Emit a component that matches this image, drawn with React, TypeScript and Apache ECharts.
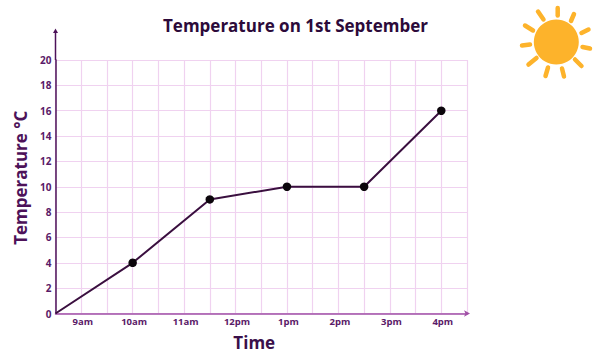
import React, { useEffect, useRef } from "react";
import * as echarts from "echarts";

const titleText = "Temperature on 1st September";
const xName = "Time";
const yName = "Temperature °C";
const hourLabels: Record<string, string> = {
  "9": "9am", "10": "10am", "11": "11am", "12": "12pm",
  "13": "1pm", "14": "2pm", "15": "3pm", "16": "4pm",
};
const times = [8.5, 10, 11.5, 13, 14.5, 16];
const temps = [0, 4, 9, 10, 10, 16];

const rays = [
  [557.7, 8, 557.7, 15.5], [574, 14, 571, 21], [588.5, 29.5, 581.5, 33],
  [590, 48.5, 582.5, 47], [581.5, 66, 575, 59.5], [564, 76.5, 562, 68.5],
  [545.5, 76, 548, 67.5], [528.5, 64.5, 536.5, 58], [522, 45.5, 530, 44.5],
  [525, 25.5, 533, 30.5], [538, 11.5, 543.5, 19.5],
];

export default function App() {
  const ref = useRef<HTMLDivElement>(null);
  useEffect(() => {
    const chart = echarts.init(ref.current!, undefined, { renderer: "svg" });
    const axisY = "#4d1259";
    const tick = "#5a1a68";
    chart.setOption({
      animation: false,
      backgroundColor: "#ffffff",
      title: {
        text: titleText,
        left: 290.5,
        top: 12,
        textAlign: "center",
        textStyle: { fontFamily: "Open Sans", fontWeight: "bold", fontSize: 17, color: "#2c0a3a" },
      },
      grid: { left: 55.5, right: 145, top: 60, bottom: 43.5, outerBoundsMode: "none" },
      xAxis: {
        type: "value",
        min: 8.5,
        max: 16.5,
        interval: 0.5,
        name: xName,
        nameLocation: "middle",
        nameGap: 20,
        nameTextStyle: {
          fontFamily: "Open Sans", fontWeight: "bold", fontSize: 17, color: "#3a0f4a",
          padding: [0, 14, 0, 0],
        },
        axisLine: {
          onZero: false,
          symbol: ["none", "arrow"],
          symbolSize: [5, 6],
          symbolOffset: [0, 3],
          lineStyle: { color: "#a04fa6", width: 1.5 },
        },
        axisTick: { show: false },
        splitLine: { show: true, lineStyle: { color: "#f0d2f0", width: 1.2 } },
        axisLabel: {
          show: true,
          interval: 0,
          margin: 3,
          showMinLabel: true,
          showMaxLabel: true,
          hideOverlap: false,
          padding: [0, 0, 0, 3],
          fontFamily: "Open Sans",
          fontWeight: "bold",
          fontSize: 9.5,
          color: tick,
          formatter: (v: number) => hourLabels[String(v)] ?? "",
        },
      },
      yAxis: {
        type: "value",
        min: 0,
        max: 20,
        interval: 2,
        name: yName,
        nameLocation: "middle",
        nameGap: 26,
        nameTextStyle: {
          fontFamily: "Open Sans", fontWeight: "bold", fontSize: 17, color: "#4d1259",
          padding: [0, 0, 0, 18],
        },
        axisLine: { show: true, onZero: false, lineStyle: { color: axisY, width: 1.5 } },
        axisTick: { show: false },
        splitLine: { show: true, lineStyle: { color: "#f0d2f0", width: 1.2 } },
        axisLabel: {
          margin: 4,
          fontFamily: "Open Sans",
          fontWeight: "bold",
          fontSize: 10,
          color: tick,
        },
      },
      series: [
        {
          type: "line",
          data: times.map((t, i) =>
            i === 0 ? { value: [t, temps[i]], symbol: "none" } : { value: [t, temps[i]] }
          ),
          symbol: "circle",
          symbolSize: 8.5,
          showSymbol: true,
          clip: false,
          lineStyle: { color: "#3a0f3f", width: 2 },
          itemStyle: { color: "#0c060c" },
        },
      ],
      graphic: [
        {
          type: "line",
          shape: { x1: 55.5, y1: 32, x2: 55.5, y2: 60 },
          style: { stroke: axisY, lineWidth: 1.5 },
        },
        {
          type: "polygon",
          shape: { points: [[55.5, 28.5], [53, 33], [58, 33]] },
          style: { fill: axisY },
        },
        {
          type: "circle",
          shape: { cx: 556.3, cy: 42, r: 22.5 },
          style: { fill: "#fdb32b" },
        },
        ...rays.map(([x1, y1, x2, y2]) => ({
          type: "line",
          shape: { x1, y1, x2, y2 },
          style: { stroke: "#fdb32b", lineWidth: 4.5, lineCap: "round" },
        })),
      ],
    });
    return () => chart.dispose();
  }, []);
  return (
    <div
      ref={ref}
      style={{ position: "absolute", left: 0, top: 0, width: 612, height: 357 }}
    />
  );
}
